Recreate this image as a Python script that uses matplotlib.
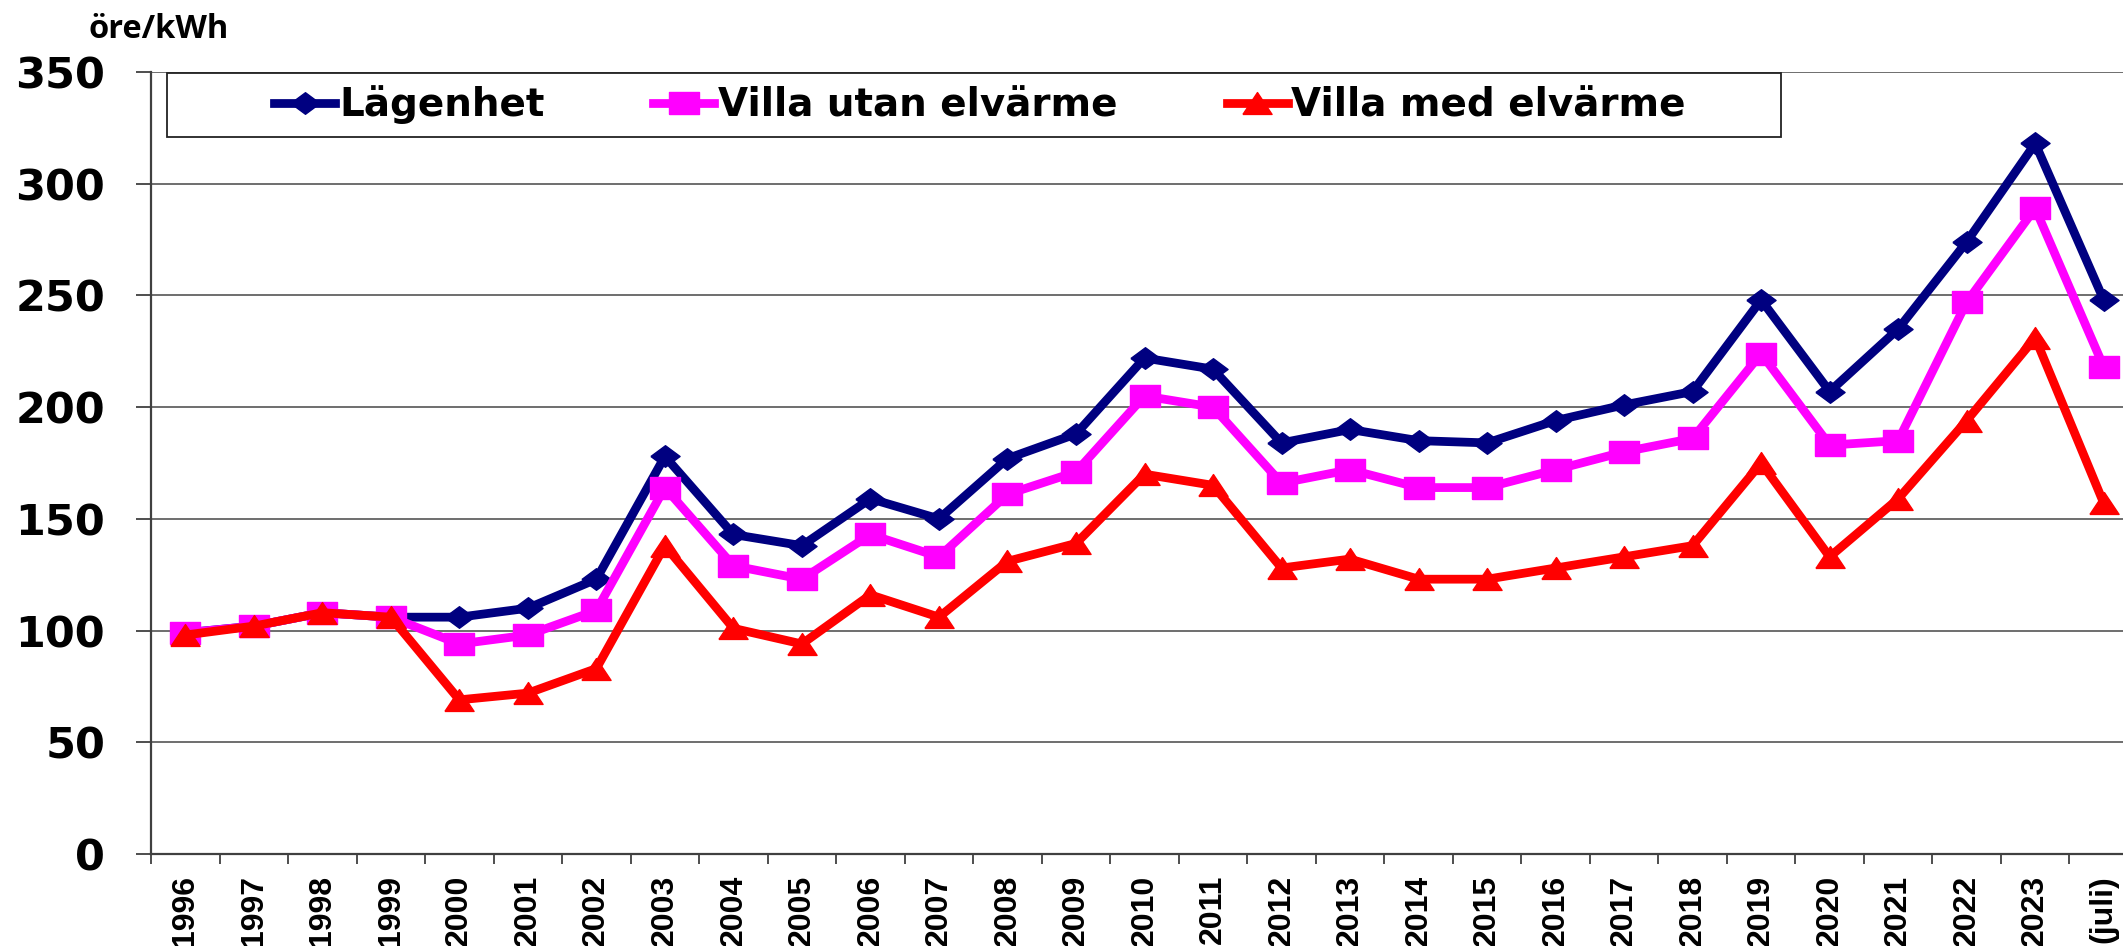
import numpy as np
import matplotlib
matplotlib.use('Agg')
import matplotlib.pyplot as plt
from matplotlib.patches import Rectangle

years = [str(y) for y in range(1996, 2024)] + ['(juli)']

lagenhet = [99, 102, 108, 106, 106, 110, 123, 178, 143, 138, 159, 150, 177, 188, 222,
            217, 184, 190, 185, 184, 194, 201, 207, 248, 207, 235, 274, 318, 248]
villa_utan = [99, 102, 108, 106, 94, 98, 109, 164, 129, 123, 143, 133, 161, 171, 205,
              200, 166, 172, 164, 164, 172, 180, 186, 224, 183, 185, 247, 289, 218]
villa_med = [98, 102, 108, 106, 69, 72, 83, 138, 101, 94, 116, 106, 131, 139, 170,
             165, 128, 132, 123, 123, 128, 133, 138, 175, 133, 159, 194, 231, 157]

# wide, flat markers (excel style)
diamond = [(-1, 0), (0, 0.74), (1, 0), (0, -0.74), (-1, 0)]
square = [(-1, -0.74), (1, -0.74), (1, 0.74), (-1, 0.74), (-1, -0.74)]
triangle = [(-1, -0.75), (1, -0.75), (0, 0.75), (-1, -0.75)]

W, H = 2123, 946
fig = plt.figure(figsize=(W / 100, H / 100), dpi=100)
ax = fig.add_axes([151 / W, (H - 854) / H, 1987 / W, 782 / H])

x = np.arange(len(years))
ax.plot(x, lagenhet, color='#000080', lw=6.3, marker=diamond, ms=21, label='Lägenhet')
ax.plot(x, villa_utan, color='#FF00FF', lw=6.3, marker=square, ms=21, label='Villa utan elvärme')
ax.plot(x, villa_med, color='#FF0000', lw=6.3, marker=triangle, ms=21, label='Villa med elvärme')

ax.set_xlim(-0.5, len(years) - 0.5)
ax.set_ylim(0, 350)
ax.set_yticks(np.arange(0, 351, 50))
ax.yaxis.grid(True, color='#6e6e6e', lw=1.4)
ax.set_axisbelow(True)

ax.set_xticks(x)
ax.set_xticklabels(years, rotation=90, fontfamily='Liberation Sans', fontweight='bold', fontsize=23)
ax.set_xticks(np.arange(-0.5, len(years)), minor=True)
ax.tick_params(axis='x', which='major', length=0, pad=15)
ax.tick_params(axis='x', which='minor', length=7, width=1.3, color='#404040')
ax.tick_params(axis='y', length=11, width=1.3, color='#404040', pad=22)
for lab in ax.get_yticklabels():
    lab.set_fontfamily('DejaVu Sans')
    lab.set_fontweight('bold')
    lab.set_fontsize(31)

for s in ['top', 'right']:
    ax.spines[s].set_visible(False)
for s in ['left', 'bottom']:
    ax.spines[s].set_color('#404040')
    ax.spines[s].set_linewidth(1.6)

# legend frame + entries
ax.add_patch(Rectangle(((167 - 151) / 1987, (854 - 137) / 782), (1781 - 167) / 1987, 64 / 782,
                       transform=ax.transAxes, facecolor='white', edgecolor='#222222',
                       lw=1.3, zorder=4, clip_on=False))
leg = ax.legend(loc='center', bbox_to_anchor=((980 - 151) / 1987, (854 - 105) / 782),
                bbox_transform=ax.transAxes, ncol=3, frameon=False,
                prop={'family': 'DejaVu Sans', 'weight': 'bold', 'size': 28},
                handlelength=1.57, handletextpad=0.1, columnspacing=2.8)
leg.set_zorder(5)

fig.text(88 / W, (H - 38) / H, 'öre/kWh', fontfamily='Open Sans', fontweight='bold',
         fontsize=23.5, ha='left', va='baseline')

fig.savefig('out.png', dpi=100)
